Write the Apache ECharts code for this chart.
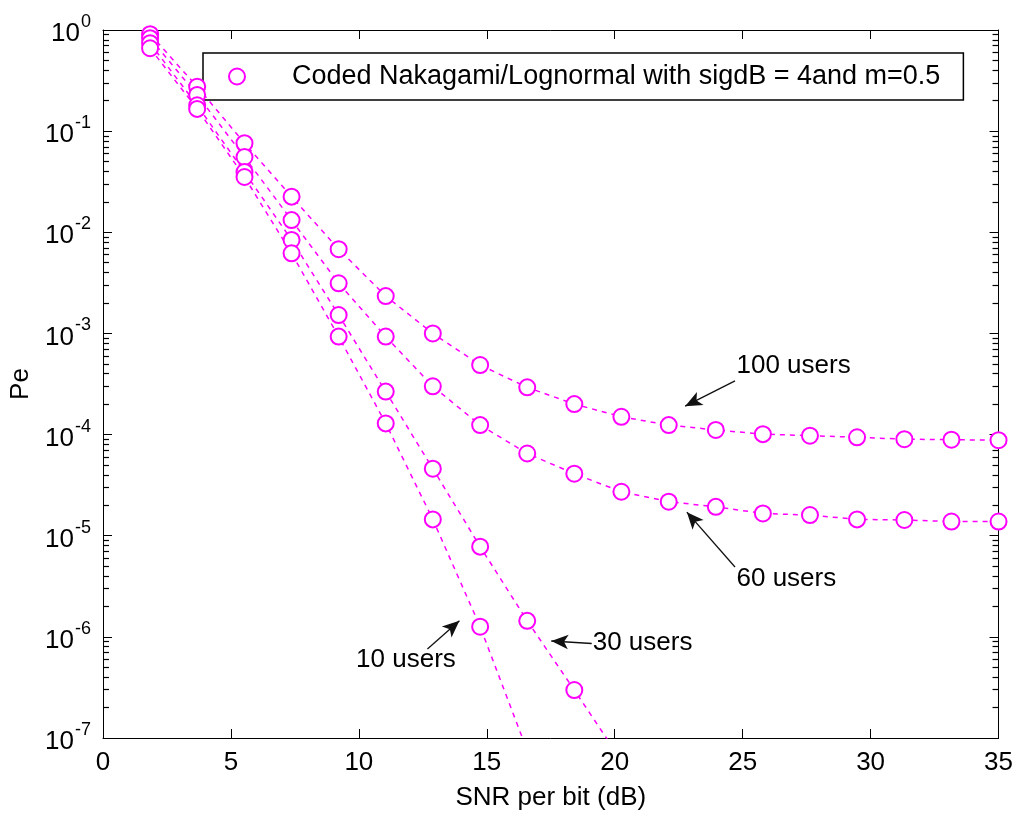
<!DOCTYPE html>
<html><head><meta charset="utf-8">
<script src="https://cdn.jsdelivr.net/npm/echarts@6/dist/echarts.min.js"></script>
<style>html,body{margin:0;padding:0;background:#fff}#c{width:1016px;height:816px}</style>
</head><body><div id="c"></div>
<script>
// ---- data ----
const snr = [1.84, 3.68, 5.53, 7.37, 9.21, 11.05, 12.89, 14.74, 16.58, 18.42, 20.26, 22.11, 23.95, 25.79, 27.63, 29.47, 31.32, 33.16, 35];
const users100 = [0.91, 0.275, 0.076, 0.0225, 0.0068, 0.00234, 0.00100, 4.87e-4, 2.93e-4, 2.0e-4, 1.50e-4, 1.24e-4, 1.11e-4, 1.01e-4, 9.75e-5, 9.4e-5, 9.0e-5, 8.9e-5, 8.8e-5];
const users60 = [0.83, 0.228, 0.0555, 0.0132, 0.00313, 9.3e-4, 3.0e-4, 1.24e-4, 6.5e-5, 4.1e-5, 2.72e-5, 2.17e-5, 1.93e-5, 1.66e-5, 1.6e-5, 1.45e-5, 1.43e-5, 1.38e-5, 1.38e-5];
const users30 = [0.74, 0.18, 0.0394, 0.0084, 0.00152, 2.66e-4, 4.6e-5, 7.8e-6, 1.44e-6, 2.98e-7, 6e-8];
const users10 = [0.66, 0.166, 0.0352, 0.0062, 9.3e-4, 1.29e-4, 1.45e-5, 1.26e-6, 7.5e-8];
const xTickLabels = ['0', '5', '10', '15', '20', '25', '30', '35'];
const yTickExponents = [0, -1, -2, -3, -4, -5, -6, -7];
const legendLabel = 'Coded Nakagami/Lognormal with sigdB = 4and m=0.5';
const annotationTexts = ['100 users', '60 users', '30 users', '10 users'];

// annotation geometry (data coordinates)
const annoGeom = [
  {from: [24.70, 3.4e-4], to: [22.75, 1.91e-4], label: [24.74, 4.76e-4], pos: 'right'},
  {from: [24.70, 4.9e-6], to: [22.82, 1.71e-5], label: [24.74, 3.73e-6], pos: 'right'},
  {from: [19.10, 8.6e-7], to: [17.52, 9.1e-7], label: [19.12, 8.69e-7], pos: 'right'},
  {from: [12.68, 7.58e-7], to: [13.93, 1.44e-6], label: [11.84, 5.9e-7], pos: 'inside'}
];

const FONT = "'Liberation Sans', Arial, Helvetica, sans-serif";
const FS = 26;
const MAG = '#ff00ff';

function pairs(vals) { return vals.map((v, i) => [snr[i], v]); }

function userSeries(vals, k) {
  const g = annoGeom[k];
  return {
    type: 'line', name: legendLabel, data: pairs(vals),
    xAxisIndex: 0, yAxisIndex: 0,
    symbol: 'emptyCircle', symbolSize: 16, showAllSymbol: true,
    lineStyle: {color: MAG, width: 1.5, type: [5, 5]},
    itemStyle: {color: MAG, borderColor: MAG, borderWidth: 1.5},
    clip: true, silent: true, z: 5,
    markLine: {
      silent: true, symbol: ['none', 'arrow'], symbolSize: [11, 17],
      lineStyle: {color: '#111', width: 1.3, type: 'solid'},
      label: {show: false},
      data: [[{coord: g.from}, {coord: g.to}]]
    },
    markPoint: {
      silent: true, symbol: 'circle', symbolSize: 1,
      itemStyle: {color: 'rgba(0,0,0,0)'},
      label: {show: true, position: g.pos, distance: 0, color: '#000', fontSize: FS, fontFamily: FONT,
        formatter: annotationTexts[k]},
      data: [{coord: g.label, value: annotationTexts[k]}]
    }
  };
}

const chart = echarts.init(document.getElementById('c'), null, {renderer: 'canvas'});
const axisLine = {show: true, onZero: false, lineStyle: {color: '#000', width: 1}};
const tick = {inside: true, length: 9, lineStyle: {color: '#000', width: 1}};
const minor = {show: true, splitNumber: 9, length: 6, lineStyle: {color: '#000', width: 1.2}};
const labelX = {color: '#000', fontSize: FS, fontFamily: FONT, margin: 12,
  formatter: v => xTickLabels[Math.round(v / 5)] ?? ''};

chart.setOption({
  animation: false,
  backgroundColor: '#fff',
  grid: {left: 103, right: 16, top: 30, bottom: 78},
  legend: {
    data: [legendLabel], left: 203, top: 53, orient: 'horizontal',
    icon: 'emptyCircle', itemWidth: 16, itemHeight: 16,
    padding: [10, 23, 10, 25],
    borderColor: '#000', borderWidth: 1.5, backgroundColor: '#fff',
    selectedMode: false,
    textStyle: {color: '#000', fontSize: 27, fontFamily: FONT, padding: [0, 0, 0, 42]},
    itemStyle: {color: MAG, borderColor: MAG, borderWidth: 1.5}
  },
  xAxis: [
    {type: 'value', min: 0, max: 35, interval: 5, position: 'bottom',
      axisLine, axisTick: tick,
      splitLine: {show: false}, axisLabel: labelX,
      name: 'SNR per bit (dB)', nameLocation: 'middle', nameGap: 47,
      nameTextStyle: {color: '#000', fontSize: FS, fontFamily: FONT}},
    {type: 'value', min: 0, max: 35, interval: 5, position: 'top',
      axisLine, axisTick: tick,
      splitLine: {show: false}, axisLabel: {show: false}}
  ],
  yAxis: [
    {type: 'log', logBase: 10, min: 1e-7, max: 1, position: 'left',
      axisLine, axisTick: tick, minorTick: minor,
      splitLine: {show: false}, minorSplitLine: {show: false},
      axisLabel: {margin: 12, color: '#000', fontFamily: FONT,
        formatter: v => {
          const e = Math.round(Math.log10(v));
          if (!yTickExponents.includes(e)) return '';
          return '{b|10}{s|' + e + '}';
        },
        rich: {
          b: {fontSize: FS, fontFamily: FONT, color: '#000', lineHeight: 34, verticalAlign: 'bottom'},
          s: {fontSize: 18, fontFamily: FONT, color: '#000', lineHeight: 34, verticalAlign: 'top', padding: [0, 0, 0, 1]}
        }},
      name: 'Pe', nameLocation: 'middle', nameGap: 63, nameRotate: 90,
      nameTextStyle: {color: '#000', fontSize: FS, fontFamily: FONT}},
    {type: 'log', logBase: 10, min: 1e-7, max: 1, position: 'right',
      axisLine, axisTick: tick, minorTick: minor,
      splitLine: {show: false}, minorSplitLine: {show: false}, axisLabel: {show: false}}
  ],
  series: [
    userSeries(users100, 0),
    userSeries(users60, 1),
    userSeries(users30, 2),
    userSeries(users10, 3)
  ]
});
</script>
</body></html>
